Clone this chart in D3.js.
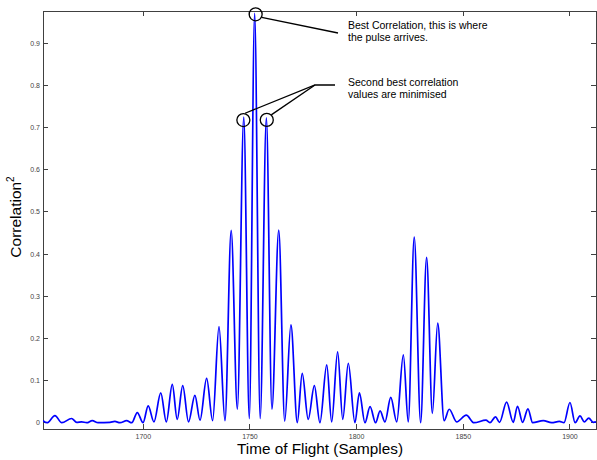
<!DOCTYPE html>
<html>
<head>
<meta charset="utf-8">
<script src="https://cdn.jsdelivr.net/npm/d3@7"></script>
<style>
  body { margin: 0; background: #fff; }
  svg { display: block; font-family: "Liberation Sans", Arial, sans-serif; }
</style>
</head>
<body>
<svg id="chart" width="597" height="460"></svg>
<script>
// extrema of the correlation trace
const samples = [
  1653.0, 1654.9, 1658.6, 1661.8, 1666.4, 1668.8, 1671.1, 1673.5, 1676.1, 1678.8,
  1684.4, 1686.7, 1689.1, 1692.2, 1694.6, 1697.2, 1699.9, 1702.3, 1705.0, 1708.2,
  1710.8, 1713.6, 1715.9, 1718.5, 1721.2, 1724.2, 1726.6, 1729.7, 1732.5, 1735.5,
  1738.3, 1741.2, 1744.1, 1747.1, 1749.7, 1752.2, 1754.8, 1757.7, 1760.3, 1763.5,
  1766.3, 1769.2, 1772.2, 1774.5, 1777.3, 1780.2, 1782.8, 1786.0, 1788.3, 1791.1,
  1793.5, 1796.1, 1799.2, 1801.3, 1803.9, 1806.3, 1808.9, 1811.0, 1813.3, 1816.0,
  1818.8, 1821.9, 1824.2, 1827.0, 1830.0, 1832.8, 1835.5, 1838.0, 1841.0, 1843.4,
  1846.9, 1851.4, 1855.0, 1860.6, 1862.5, 1865.1, 1867.0, 1870.3, 1873.4, 1875.4,
  1877.8, 1880.3, 1882.5, 1887.5, 1891.4, 1895.0, 1897.2, 1900.0, 1902.4, 1904.7,
  1906.7, 1908.8, 1910.9, 1912.2
];
const corr2 = [
  0.005, 0.000, 0.017, 0.000, 0.010, 0.001, 0.002, 0.000, 0.005, 0.000,
  0.001, 0.003, 0.000, 0.005, 0.000, 0.024, 0.000, 0.040, 0.002, 0.071,
  0.002, 0.091, 0.008, 0.088, 0.002, 0.065, 0.006, 0.105, 0.005, 0.228,
  0.005, 0.456, 0.032, 0.725, 0.010, 0.971, 0.010, 0.723, 0.032, 0.457,
  0.004, 0.232, 0.000, 0.117, 0.008, 0.088, 0.000, 0.137, 0.002, 0.168,
  0.008, 0.141, 0.000, 0.071, 0.000, 0.038, 0.000, 0.028, 0.002, 0.060,
  0.002, 0.161, 0.002, 0.440, 0.000, 0.392, 0.022, 0.236, 0.005, 0.032,
  0.002, 0.018, 0.000, 0.006, 0.000, 0.014, 0.001, 0.049, 0.001, 0.039,
  0.001, 0.033, 0.000, 0.005, 0.000, 0.003, 0.000, 0.048, 0.000, 0.016,
  0.002, 0.011, 0.001, 0.002
];
const xTicks = [1700, 1750, 1800, 1850, 1900];
const yTicks = [0, 0.1, 0.2, 0.3, 0.4, 0.5, 0.6, 0.7, 0.8, 0.9];
const yTickLabels = ["0", "0.1", "0.2", "0.3", "0.4", "0.5", "0.6", "0.7", "0.8", "0.9"];

const bestNote = ["Best Correlation, this is where", "the pulse arrives."];
const secondNote = ["Second best correlation", "values are minimised"];

const m = { left: 43, right: 596, top: 11, bottom: 429 };
const svg = d3.select("#chart");

const x = d3.scaleLinear().domain([1653.0, 1912.2]).range([m.left, m.right]);
const y = d3.scaleLinear().domain([-0.0149, 0.9765]).range([m.bottom, m.top]);

const axisColor = "#404040";

// plot frame
svg.append("rect")
  .attr("x", m.left).attr("y", m.top)
  .attr("width", m.right - m.left).attr("height", m.bottom - m.top)
  .attr("fill", "none").attr("stroke", axisColor).attr("stroke-width", 1)
  .attr("shape-rendering", "crispEdges");

// inward ticks on all four sides
const tickLen = 5;
const tk = svg.append("g").attr("stroke", axisColor).attr("shape-rendering", "crispEdges");
xTicks.forEach(t => {
  tk.append("line").attr("x1", x(t)).attr("x2", x(t)).attr("y1", m.bottom).attr("y2", m.bottom - tickLen);
  tk.append("line").attr("x1", x(t)).attr("x2", x(t)).attr("y1", m.top).attr("y2", m.top + tickLen);
});
yTicks.forEach(t => {
  tk.append("line").attr("y1", y(t)).attr("y2", y(t)).attr("x1", m.left).attr("x2", m.left + tickLen);
  tk.append("line").attr("y1", y(t)).attr("y2", y(t)).attr("x1", m.right).attr("x2", m.right - tickLen);
});

svg.append("g").selectAll("text").data(xTicks).join("text")
  .attr("x", d => x(d)).attr("y", 438.5)
  .attr("text-anchor", "middle").attr("font-size", 7).attr("fill", "#444")
  .text(d => d);

svg.append("g").selectAll("text").data(yTicks).join("text")
  .attr("x", m.left - 3).attr("y", d => y(d)).attr("dy", "0.35em")
  .attr("text-anchor", "end").attr("font-size", 7).attr("fill", "#444")
  .text((d, i) => yTickLabels[i]);

// axis titles
svg.append("text")
  .attr("x", 320).attr("y", 453.5)
  .attr("text-anchor", "middle").attr("font-size", 15.3).attr("fill", "#000")
  .text("Time of Flight (Samples)");

const yl = svg.append("text")
  .attr("transform", "translate(21,217) rotate(-90)")
  .attr("text-anchor", "middle").attr("font-size", 15.5).attr("fill", "#000");
yl.append("tspan").text("Correlation");
yl.append("tspan").attr("font-size", 10).attr("dy", -7).text("2");

// the trace
svg.append("clipPath").attr("id", "plotclip")
  .append("rect").attr("x", m.left).attr("y", m.top - 2)
  .attr("width", m.right - m.left).attr("height", m.bottom - m.top + 2);

const line = d3.line()
  .x(d => x(d[0])).y(d => y(d[1]))
  .curve(d3.curveMonotoneX);

svg.append("path")
  .datum(samples.map((s, i) => [s, corr2[i]]))
  .attr("clip-path", "url(#plotclip)")
  .attr("d", line)
  .attr("fill", "none").attr("stroke", "#0000ff").attr("stroke-width", 1.7)
  .attr("stroke-linejoin", "round");

// annotations
const ann = svg.append("g").attr("stroke", "#000").attr("stroke-width", 1.3).attr("fill", "none");
const r = 6.5;
const iBest = corr2.indexOf(d3.max(corr2));
const bx = x(samples[iBest]) + 1, by = y(corr2[iBest]) + 1;
ann.append("circle").attr("cx", bx).attr("cy", by).attr("r", r);
ann.append("line").attr("x1", bx + 6).attr("y1", by + 3).attr("x2", 338).attr("y2", 33);

const s1 = x(samples[iBest - 2]) - 0.4, s1y = y(corr2[iBest - 2]) + 3;
const s2 = x(samples[iBest + 2]) + 0.4, s2y = y(corr2[iBest + 2]) + 2;
ann.append("circle").attr("cx", s1).attr("cy", s1y).attr("r", r);
ann.append("circle").attr("cx", s2).attr("cy", s2y).attr("r", r);
ann.append("polyline").attr("points", [[s1 + 1.7, s1y - 6.8], [315, 85], [335, 85]].join(" "));
ann.append("line").attr("x1", s2 + 4.5).attr("y1", s2y - 5).attr("x2", 315).attr("y2", 85);

const note = (lines, x0, y0) => {
  const t = svg.append("text").attr("font-size", 10.5).attr("fill", "#000");
  lines.forEach((l, i) => t.append("tspan").attr("x", x0).attr("y", y0 + i * 12.3).text(l));
};
note(bestNote, 348, 28.5);
note(secondNote, 348, 85.5);
</script>
</body>
</html>
